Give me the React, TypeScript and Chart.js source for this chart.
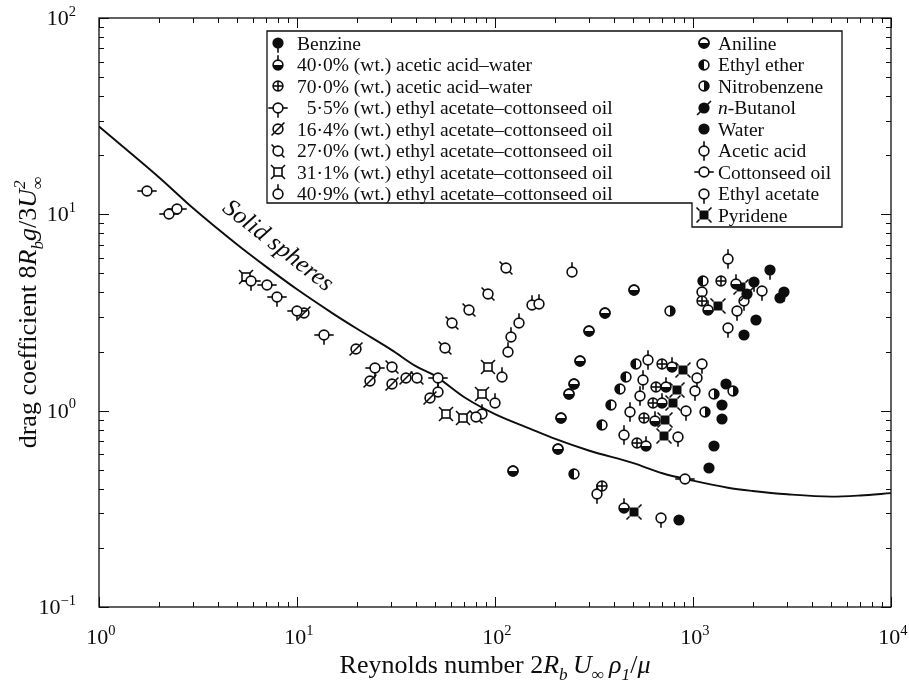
import React, { useEffect, useRef } from 'react';
import { Chart, registerables } from 'chart.js';

Chart.register(...registerables);

// ---------- data ----------
const sphereRe = [1, 2, 3, 5, 7, 10, 15, 20, 30, 40, 50, 70, 100, 150, 200, 300, 500, 700, 1000, 1500, 2000, 3000, 5000, 7000, 10000];
const sphereCd = [28, 15.5, 10.7, 7.0, 5.4, 4.15, 3.15, 2.62, 2.04, 1.68, 1.5, 1.17, 0.96, 0.81, 0.72, 0.625, 0.54, 0.48, 0.44, 0.405, 0.39, 0.375, 0.365, 0.37, 0.38];

const benzineRe = [2036, 2460, 2870];
const benzineCd = [4.5, 5.18, 4.0];
const acetic40Re = [449, 581, 642, 697, 732, 784, 1190, 1640];
const acetic40Cd = [0.32, 0.662, 0.89, 1.09, 1.32, 1.66, 3.24, 4.44];
const acetic70Re = [347, 524, 565, 628, 649, 697, 1110, 1377];
const acetic70Cd = [0.414, 0.687, 0.92, 1.09, 1.32, 1.72, 3.6, 4.6];
const eac5Re = [5.85, 7.93, 10.0, 13.7, 24.8, 51.5];
const eac5Cd = [4.55, 3.78, 3.2, 2.42, 1.64, 1.47];
const eac16Re = [10.8, 19.9, 23.4, 30.3, 35.5, 47.0];
const eac16Cd = [3.13, 2.05, 1.41, 1.36, 1.47, 1.16];
const eac27Re = [30.3, 40.4, 55.9, 60.8, 73.6, 80.1, 92.3, 113];
const eac27Cd = [1.66, 1.47, 2.09, 2.81, 3.24, 0.93, 3.91, 5.3];
const eac31Re = [5.53, 56.5, 68.8, 86, 92.3];
const eac31Cd = [4.77, 0.966, 0.92, 1.21, 1.66];
const eac41Re = [51.5, 86, 100, 108, 116, 120, 132, 153, 167, 245];
const eac41Cd = [1.24, 0.966, 1.09, 1.49, 2.0, 2.36, 2.81, 3.44, 3.5, 5.06];
const anilineRe = [123, 208, 215, 237, 250, 268, 299, 360, 505];
const anilineCd = [0.494, 0.64, 0.92, 1.21, 1.37, 1.8, 2.56, 3.16, 4.1];
const etherRe = [250, 347, 386, 428, 459, 515, 1124];
const etherCd = [0.478, 0.85, 1.07, 1.29, 1.49, 1.72, 4.6];
const nitroRe = [765, 1150, 1277, 1600];
const nitroCd = [3.2, 0.99, 1.22, 1.26];
const butanolRe = [1865];
const butanolCd = [3.95];
const waterRe = [852, 1201, 1277, 1394, 1408, 1476, 1820, 2086, 2750];
const waterCd = [0.278, 0.512, 0.662, 0.91, 1.07, 1.37, 2.42, 2.88, 3.77];
const aceticRe = [327, 449, 482, 540, 560, 592, 1494];
const aceticCd = [0.378, 0.755, 0.99, 1.19, 1.44, 1.82, 5.89];
const cottonRe = [1.75, 2.26, 2.48, 7.06, 912];
const cottonCd = [13.1, 10.0, 10.6, 4.35, 0.45];
const ethylAcetateRe = [692, 843, 922, 1020, 1046, 1110, 1110, 1494, 1660, 1820, 2222];
const ethylAcetateCd = [0.285, 0.736, 1.0, 1.26, 1.46, 1.72, 4.0, 2.65, 3.2, 3.6, 4.05];
const pyrideneRe = [505, 715, 724, 794, 834, 891, 1330, 1750];
const pyrideneCd = [0.306, 0.745, 0.9, 1.1, 1.28, 1.62, 3.43, 4.25];

const xTickPowers = [0, 1, 2, 3, 4];
const yTickPowers = [-1, 0, 1, 2];

const legendLeftLabels = [
  'Benzine',
  '40·0% (wt.) acetic acid–water',
  '70·0% (wt.) acetic acid–water',
  '\u20075·5% (wt.) ethyl acetate–cottonseed oil',
  '16·4% (wt.) ethyl acetate–cottonseed oil',
  '27·0% (wt.) ethyl acetate–cottonseed oil',
  '31·1% (wt.) ethyl acetate–cottonseed oil',
  '40·9% (wt.) ethyl acetate–cottonseed oil',
];
const legendRightLabels = ['Aniline', 'Ethyl ether', 'Nitrobenzene', 'n-Butanol', 'Water', 'Acetic acid', 'Cottonseed oil', 'Ethyl acetate', 'Pyridene'];
const legendLeftKeys = ['benzine', 'acetic40', 'acetic70', 'eac5', 'eac16', 'eac27', 'eac31', 'eac41'];
const legendRightKeys = ['aniline', 'ether', 'nitro', 'butanol', 'water', 'acetic', 'cotton', 'ethylAcetate', 'pyridene'];

const curveLabel = 'Solid spheres';
const curveLabelAt = { x: 8.0, y: 6.9 };

const seriesDefs = [
  { key: 'benzine', re: benzineRe, cd: benzineCd },
  { key: 'acetic40', re: acetic40Re, cd: acetic40Cd },
  { key: 'acetic70', re: acetic70Re, cd: acetic70Cd },
  { key: 'eac5', re: eac5Re, cd: eac5Cd },
  { key: 'eac16', re: eac16Re, cd: eac16Cd },
  { key: 'eac27', re: eac27Re, cd: eac27Cd },
  { key: 'eac31', re: eac31Re, cd: eac31Cd },
  { key: 'eac41', re: eac41Re, cd: eac41Cd },
  { key: 'aniline', re: anilineRe, cd: anilineCd },
  { key: 'ether', re: etherRe, cd: etherCd },
  { key: 'nitro', re: nitroRe, cd: nitroCd },
  { key: 'butanol', re: butanolRe, cd: butanolCd },
  { key: 'water', re: waterRe, cd: waterCd },
  { key: 'acetic', re: aceticRe, cd: aceticCd },
  { key: 'cotton', re: cottonRe, cd: cottonCd },
  { key: 'ethylAcetate', re: ethylAcetateRe, cd: ethylAcetateCd },
  { key: 'pyridene', re: pyrideneRe, cd: pyrideneCd },
];

// ---------- drawing helpers ----------
const SERIF = '"Liberation Serif", "DejaVu Serif", serif';
const INK = '#0d0d0d';

function makeMarker(kind: string): HTMLCanvasElement {
  const c = document.createElement('canvas');
  c.width = 26;
  c.height = 26;
  const g = c.getContext('2d') as CanvasRenderingContext2D;
  const cx = 13, cy = 13, r = 4.9, L = 4.8;
  const d = r / Math.SQRT2;
  g.strokeStyle = INK;
  g.fillStyle = INK;
  g.lineWidth = 1.6;
  const seg = (x1: number, y1: number, x2: number, y2: number) => {
    g.beginPath(); g.moveTo(x1, y1); g.lineTo(x2, y2); g.stroke();
  };
  const ring = () => {
    g.beginPath(); g.arc(cx, cy, r, 0, Math.PI * 2);
    g.fillStyle = '#fff'; g.fill(); g.fillStyle = INK; g.stroke();
  };
  const disc = () => { g.beginPath(); g.arc(cx, cy, r + 0.7, 0, Math.PI * 2); g.fill(); };
  const half = (a0: number, a1: number) => {
    g.beginPath(); g.arc(cx, cy, r, a0, a1); g.closePath(); g.fill();
  };
  const cornerTicks = (h: number) => {
    seg(cx - h - 3, cy - h - 3, cx - h, cy - h);
    seg(cx + h, cy - h, cx + h + 3, cy - h - 3);
    seg(cx - h - 3, cy + h + 3, cx - h, cy + h);
    seg(cx + h, cy + h, cx + h + 3, cy + h + 3);
  };
  switch (kind) {
    case 'benzine': disc(); seg(cx, cy + r, cx, cy + r + L); break;
    case 'acetic40': ring(); half(0, Math.PI); seg(cx, cy - r, cx, cy - r - L); break;
    case 'acetic70': ring(); seg(cx - r, cy, cx + r, cy); seg(cx, cy - r, cx, cy + r); break;
    case 'eac5': ring(); seg(cx - r - L, cy, cx - r, cy); seg(cx + r, cy, cx + r + L, cy); seg(cx, cy + r, cx, cy + r + L); break;
    case 'eac16': ring(); seg(cx - d - 3, cy + d + 3, cx + d + 3, cy - d - 3); break;
    case 'eac27': ring(); seg(cx - d - 3, cy - d - 3, cx - d, cy - d); seg(cx + d, cy + d, cx + d + 3, cy + d + 3); break;
    case 'eac31': {
      g.fillStyle = '#fff'; g.fillRect(cx - 4, cy - 4, 8, 8); g.fillStyle = INK;
      g.strokeRect(cx - 4, cy - 4, 8, 8); cornerTicks(4); break;
    }
    case 'eac41': ring(); seg(cx, cy - r, cx, cy - r - L); break;
    case 'aniline': ring(); half(0, Math.PI); g.beginPath(); g.arc(cx, cy, r, 0, Math.PI * 2); g.stroke(); break;
    case 'ether': ring(); half(Math.PI / 2, Math.PI * 1.5); break;
    case 'nitro': ring(); half(-Math.PI / 2, Math.PI / 2); break;
    case 'butanol': disc(); seg(cx + d, cy - d, cx + d + 3.5, cy - d - 3.5); seg(cx - d, cy + d, cx - d - 3.5, cy + d + 3.5); break;
    case 'water': disc(); break;
    case 'acetic': ring(); seg(cx, cy - r, cx, cy - r - L); seg(cx, cy + r, cx, cy + r + L); break;
    case 'cotton': ring(); seg(cx - r - L, cy, cx - r, cy); seg(cx + r, cy, cx + r + L, cy); break;
    case 'ethylAcetate': ring(); seg(cx, cy + r, cx, cy + r + L); break;
    case 'pyridene': g.fillRect(cx - 4.5, cy - 4.5, 9, 9); cornerTicks(4.5); break;
  }
  return c;
}

type Seg = { t: string; it?: boolean; sub?: string; sup?: string };

function segFont(it: boolean | undefined, size: number) {
  return `${it ? 'italic ' : ''}${size}px ${SERIF}`;
}

function richWidth(ctx: CanvasRenderingContext2D, segs: Seg[], size: number) {
  let w = 0;
  for (const s of segs) {
    ctx.font = segFont(s.it, size);
    w += ctx.measureText(s.t).width;
    ctx.font = segFont(s.it, size * 0.66);
    let sw = 0;
    if (s.sub) sw = Math.max(sw, ctx.measureText(s.sub).width);
    if (s.sup) sw = Math.max(sw, ctx.measureText(s.sup).width);
    w += sw;
  }
  return w;
}

function drawRich(ctx: CanvasRenderingContext2D, segs: Seg[], x: number, y: number, size: number, align: 'left' | 'center' | 'right') {
  const w = richWidth(ctx, segs, size);
  let cx = align === 'center' ? x - w / 2 : align === 'right' ? x - w : x;
  ctx.textAlign = 'left';
  ctx.textBaseline = 'alphabetic';
  for (const s of segs) {
    ctx.font = segFont(s.it, size);
    ctx.fillText(s.t, cx, y);
    cx += ctx.measureText(s.t).width;
    ctx.font = segFont(s.it, size * 0.66);
    let sw = 0;
    if (s.sub) { ctx.fillText(s.sub, cx, y + size * 0.25); sw = Math.max(sw, ctx.measureText(s.sub).width); }
    if (s.sup) { ctx.fillText(s.sup, cx, y - size * 0.42); sw = Math.max(sw, ctx.measureText(s.sup).width); }
    cx += sw;
  }
}

const xTitle: Seg[] = [
  { t: 'Reynolds number ' }, { t: '2' }, { t: 'R', it: true, sub: 'b' }, { t: '\u2009' },
  { t: 'U', it: true, sub: '∞' }, { t: '\u2009' }, { t: 'ρ', it: true, sub: '1' }, { t: '/' }, { t: 'μ', it: true },
];
const yTitle: Seg[] = [
  { t: 'drag coefficient 8' }, { t: 'R', it: true, sub: 'b' }, { t: 'g', it: true }, { t: '/3' },
  { t: 'U', it: true, sub: '∞', sup: '2' },
];

function powLabel(p: number): Seg[] {
  return [{ t: '10', sup: p < 0 ? '−' + Math.abs(p) : String(p) }];
}

export default function App() {
  const ref = useRef<HTMLCanvasElement>(null);

  useEffect(() => {
    const canvas = ref.current as HTMLCanvasElement;
    const markers: Record<string, HTMLCanvasElement> = {};
    for (const s of seriesDefs) markers[s.key] = makeMarker(s.key);

    const datasets: any[] = [
      {
        type: 'line',
        label: curveLabel,
        data: sphereRe.map((x, i) => ({ x, y: sphereCd[i] })),
        borderColor: INK,
        borderWidth: 1.9,
        pointRadius: 0,
        cubicInterpolationMode: 'monotone',
        fill: false,
        order: 10,
      },
      ...seriesDefs.map((s) => ({
        type: 'scatter',
        label: s.key,
        data: s.re.map((x, i) => ({ x, y: s.cd[i] })),
        pointStyle: markers[s.key],
        pointRadius: 5,
        order: 1,
      })),
    ];

    const decor = {
      id: 'decor',
      beforeDatasetsDraw(chart: any) {
        const ctx = chart.ctx as CanvasRenderingContext2D;
        const a = chart.chartArea;
        const xs = chart.scales.x;
        const ys = chart.scales.y;
        ctx.save();
        ctx.strokeStyle = INK;
        ctx.fillStyle = INK;
        ctx.lineWidth = 1.3;
        ctx.strokeRect(a.left, a.top, a.right - a.left, a.bottom - a.top);
        ctx.lineWidth = 1;
        for (let p = xTickPowers[0]; p <= xTickPowers[xTickPowers.length - 1]; p++) {
          for (let m = 1; m <= 9; m++) {
            const v = m * Math.pow(10, p);
            if (v > xs.max * 1.0001) break;
            const px = Math.round(xs.getPixelForValue(v)) + 0.5;
            const len = m === 1 ? 10 : 5;
            ctx.beginPath();
            ctx.moveTo(px, a.bottom); ctx.lineTo(px, a.bottom - len);
            ctx.moveTo(px, a.top); ctx.lineTo(px, a.top + len);
            ctx.stroke();
          }
        }
        for (let p = yTickPowers[0]; p <= yTickPowers[yTickPowers.length - 1]; p++) {
          for (let m = 1; m <= 9; m++) {
            const v = m * Math.pow(10, p);
            if (v > ys.max * 1.0001) break;
            const py = Math.round(ys.getPixelForValue(v)) + 0.5;
            const len = m === 1 ? 10 : 5;
            ctx.beginPath();
            ctx.moveTo(a.left, py); ctx.lineTo(a.left + len, py);
            ctx.moveTo(a.right, py); ctx.lineTo(a.right - len, py);
            ctx.stroke();
          }
        }
        for (const p of xTickPowers) {
          drawRich(ctx, powLabel(p), xs.getPixelForValue(Math.pow(10, p)) + 2, a.bottom + 37, 22, 'center');
        }
        for (const p of yTickPowers) {
          drawRich(ctx, powLabel(p), a.left - 23, ys.getPixelForValue(Math.pow(10, p)) + 7, 22, 'right');
        }
        drawRich(ctx, xTitle, (a.left + a.right) / 2, 673, 26, 'center');
        ctx.save();
        ctx.translate(36, (a.top + a.bottom) / 2);
        ctx.rotate(-Math.PI / 2);
        drawRich(ctx, yTitle, 0, 0, 26, 'center');
        ctx.restore();
        ctx.save();
        ctx.translate(xs.getPixelForValue(curveLabelAt.x), ys.getPixelForValue(curveLabelAt.y));
        ctx.rotate((38 * Math.PI) / 180);
        ctx.font = `italic 25px ${SERIF}`;
        ctx.textAlign = 'center';
        ctx.textBaseline = 'middle';
        ctx.fillText(curveLabel, 0, 0);
        ctx.restore();
        ctx.restore();
        ctx.imageSmoothingEnabled = false;
      },
      afterDatasetsDraw(chart: any) {
        const ctx = chart.ctx as CanvasRenderingContext2D;
        ctx.save();
        const L = 267, T = 31, R = 842, B1 = 203, B2 = 227, SX = 692;
        ctx.beginPath();
        ctx.moveTo(L, T); ctx.lineTo(R, T); ctx.lineTo(R, B2); ctx.lineTo(SX, B2); ctx.lineTo(SX, B1); ctx.lineTo(L, B1); ctx.closePath();
        ctx.fillStyle = '#fff';
        ctx.fill();
        ctx.strokeStyle = INK;
        ctx.lineWidth = 1.3;
        ctx.stroke();
        ctx.fillStyle = INK;
        const row0 = 43, step = 21.5, FS = 19.5;
        legendLeftKeys.forEach((k, i) => {
          const y = row0 + i * step;
          const m = markers[k];
          ctx.drawImage(m, Math.round(278 - m.width / 2), Math.round(y - m.height / 2));
          ctx.font = `${FS}px ${SERIF}`;
          ctx.textAlign = 'left';
          ctx.textBaseline = 'alphabetic';
          ctx.fillText(legendLeftLabels[i], 297, y + 6.5);
        });
        legendRightKeys.forEach((k, i) => {
          const y = row0 + i * step;
          const m = markers[k];
          ctx.drawImage(m, Math.round(704 - m.width / 2), Math.round(y - m.height / 2));
          const lab = legendRightLabels[i];
          if (lab.startsWith('n-')) {
            drawRich(ctx, [{ t: 'n', it: true }, { t: lab.slice(1) }], 718, y + 6.5, FS, 'left');
          } else {
            ctx.font = `${FS}px ${SERIF}`;
            ctx.textAlign = 'left';
            ctx.textBaseline = 'alphabetic';
            ctx.fillText(lab, 718, y + 6.5);
          }
        });
        ctx.restore();
      },
    };

    const chart = new Chart(canvas, {
      type: 'scatter',
      data: { datasets },
      options: {
        responsive: false,
        animation: false,
        devicePixelRatio: 1,
        layout: { padding: { top: 18, right: 18, left: 0, bottom: 0 } },
        plugins: { legend: { display: false }, tooltip: { enabled: false }, title: { display: false } },
        scales: {
          x: {
            type: 'logarithmic', min: 1, max: 10000, position: 'bottom',
            grid: { display: false }, border: { display: false }, ticks: { display: false },
            afterFit: (s: any) => { s.height = 74; },
          },
          y: {
            type: 'logarithmic', min: 0.1, max: 100, position: 'left',
            grid: { display: false }, border: { display: false }, ticks: { display: false },
            afterFit: (s: any) => { s.width = 99; },
          },
        },
      } as any,
      plugins: [decor],
    });
    return () => chart.destroy();
  }, []);

  return (
    <div style={{ position: 'fixed', left: 0, top: 0, width: 909, height: 681, background: '#fff' }}>
      <canvas ref={ref} width={909} height={681} style={{ display: 'block', width: 909, height: 681 }} />
    </div>
  );
}
